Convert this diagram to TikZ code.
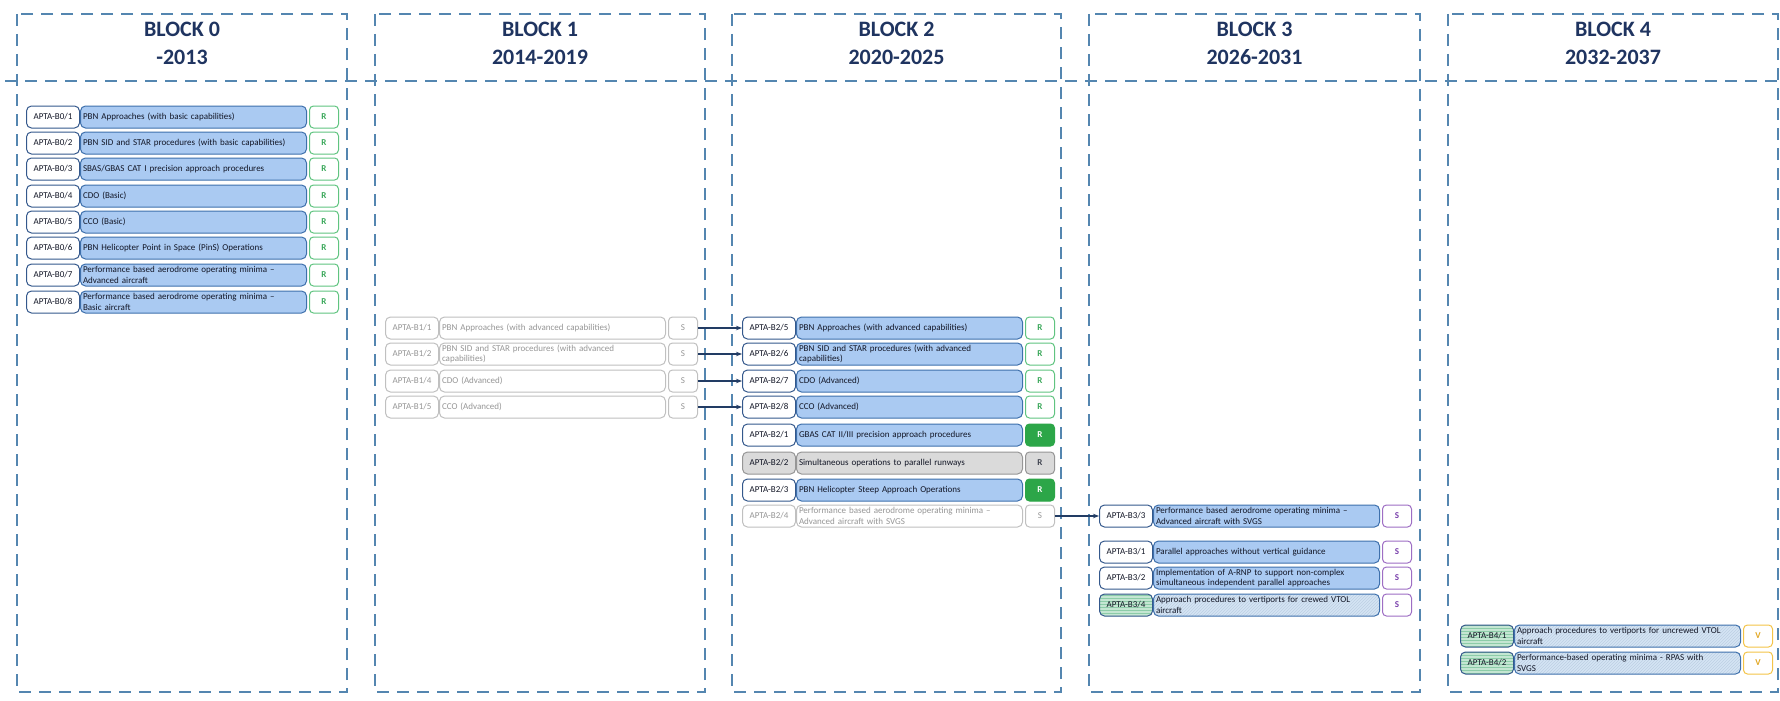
\documentclass[tikz,border=0pt]{standalone}
\usepackage{fontspec}
\setmainfont{Carlito}
\usetikzlibrary{positioning,patterns,arrows.meta}

\definecolor{frameblue}{RGB}{84,134,176}
\definecolor{hdrnavy}{RGB}{31,52,96}
\definecolor{inkdark}{RGB}{18,22,38}
\definecolor{idline}{RGB}{52,88,140}
\definecolor{descfill}{RGB}{170,202,242}
\definecolor{descline}{RGB}{62,112,172}
\definecolor{fadeline}{RGB}{192,192,192}
\definecolor{fadetext}{RGB}{150,150,150}
\definecolor{greyfill}{RGB}{218,218,218}
\definecolor{greyline}{RGB}{150,150,150}
\definecolor{rgreenline}{RGB}{96,196,128}
\definecolor{rgreentext}{RGB}{58,168,90}
\definecolor{rsolid}{RGB}{44,166,72}
\definecolor{purpleline}{RGB}{158,110,196}
\definecolor{purpletext}{RGB}{122,64,172}
\definecolor{yellowline}{RGB}{244,196,72}
\definecolor{yellowtext}{RGB}{226,168,36}
\definecolor{vtolfill}{RGB}{196,230,210}
\definecolor{vtolhatch}{RGB}{140,204,168}
\definecolor{vtoldesc}{RGB}{212,228,244}
\definecolor{vtoldeschatch}{RGB}{190,208,228}
\definecolor{linknavy}{RGB}{34,60,100}

\tikzset{
	colframe/.style={draw=frameblue, line width=1.3pt, dash pattern=on 12pt off 8pt},
	blockhead/.style={text=hdrnavy, align=center, font=\fontsize{22}{28}\selectfont\bfseries},
	idbox/.style={rounded corners=5pt, minimum width=53pt, minimum height=22pt, inner sep=0pt, line width=1pt, font=\fontsize{9}{10.8}\selectfont},
	descbox/.style={rounded corners=5pt, text width=221pt, minimum height=22pt, inner xsep=2.5pt, inner ysep=0pt, align=left, line width=1pt, font=\fontsize{9}{10.8}\selectfont},
	ratebox/.style={rounded corners=4pt, minimum width=29pt, minimum height=22pt, inner sep=0pt, line width=1pt, font=\fontsize{9}{10.8}\selectfont\bfseries},
	idon/.style={draw=idline, fill=white, text=inkdark},
	idoff/.style={draw=fadeline, fill=white, text=fadetext},
	idgrey/.style={draw=greyline, fill=greyfill, text=inkdark},
	idvtol/.style={draw=idline, preaction={fill=vtolfill}, pattern=horizontal lines, pattern color=vtolhatch, text=inkdark},
	descon/.style={draw=descline, fill=descfill, text=inkdark},
	descoff/.style={draw=fadeline, fill=white, text=fadetext},
	descgrey/.style={draw=greyline, fill=greyfill, text=inkdark},
	descvtol/.style={draw=descline, preaction={fill=vtoldesc}, pattern=north east lines, pattern color=vtoldeschatch, text=inkdark},
	rgreen/.style={draw=rgreenline, fill=white, text=rgreentext},
	rfull/.style={draw=rsolid, fill=rsolid, text=white},
	rgrey/.style={draw=greyline, fill=greyfill, text=inkdark!80},
	soff/.style={draw=fadeline, fill=white, text=fadetext, font=\fontsize{9}{10.8}\selectfont},
	spurple/.style={draw=purpleline, fill=white, text=purpletext},
	vyellow/.style={draw=yellowline, fill=white, text=yellowtext},
	carry/.style={draw=linknavy, line width=1.2pt, -{Stealth[length=6pt,width=4.5pt]}}
}

% one row: [id style/desc style/rating style](x,y)(name){id}{text}{rating}
\def\aptarow[#1/#2/#3](#4,#5)(#6)#7#8#9{%
	\node[idbox, #1, anchor=west] (#6) at (#4,#5) {#7};
	\node[descbox, #2, right=0pt of #6] (#6d) {#8};
	\node[ratebox, #3, right=2pt of #6d] (#6r) {#9};}

\begin{document}
\begin{tikzpicture}[x=1pt, y=-1pt]
			%%%%% START %%%%%
			
			\fill[white] (0,0) rectangle (1780,701);
			\useasboundingbox (0,0) rectangle (1780,701);
			
			\draw[colframe] (17,14) rectangle (347,692);
			\draw[colframe] (375,14) rectangle (705,692);
			\draw[colframe] (732,14) rectangle (1061,692);
			\draw[colframe] (1089,14) rectangle (1420,692);
			\draw[colframe] (1448,14) rectangle (1778,692);
			\draw[colframe] (5,81) -- (1780,81);
			
			\node[blockhead] (h0) at (182,43) {BLOCK 0\\-2013};
			\node[blockhead] (h1) at (540,43) {BLOCK 1\\2014-2019};
			\node[blockhead] (h2) at (896.5,43) {BLOCK 2\\2020-2025};
			\node[blockhead] (h3) at (1254.5,43) {BLOCK 3\\2026-2031};
			\node[blockhead] (h4) at (1613,43) {BLOCK 4\\2032-2037};
			
			% block 0
			\aptarow[idon/descon/rgreen](26,117)(b0n1){APTA-B0/1}{PBN Approaches (with basic capabilities)}{R}
			\aptarow[idon/descon/rgreen](26,143)(b0n2){APTA-B0/2}{PBN SID and STAR procedures (with basic capabilities)}{R}
			\aptarow[idon/descon/rgreen](26,169)(b0n3){APTA-B0/3}{SBAS/GBAS CAT I precision approach procedures}{R}
			\aptarow[idon/descon/rgreen](26,196)(b0n4){APTA-B0/4}{CDO (Basic)}{R}
			\aptarow[idon/descon/rgreen](26,222)(b0n5){APTA-B0/5}{CCO (Basic)}{R}
			\aptarow[idon/descon/rgreen](26,248)(b0n6){APTA-B0/6}{PBN Helicopter Point in Space (PinS) Operations}{R}
			\aptarow[idon/descon/rgreen](26,275)(b0n7){APTA-B0/7}{Performance based aerodrome operating minima –\\Advanced aircraft}{R}
			\aptarow[idon/descon/rgreen](26,302)(b0n8){APTA-B0/8}{Performance based aerodrome operating minima –\\Basic aircraft}{R}
			
			% block 1
			\aptarow[idoff/descoff/soff](385,328)(b1n1){APTA-B1/1}{PBN Approaches (with advanced capabilities)}{S}
			\aptarow[idoff/descoff/soff](385,354)(b1n2){APTA-B1/2}{PBN SID and STAR procedures (with advanced\\capabilities)}{S}
			\aptarow[idoff/descoff/soff](385,381)(b1n4){APTA-B1/4}{CDO (Advanced)}{S}
			\aptarow[idoff/descoff/soff](385,407)(b1n5){APTA-B1/5}{CCO (Advanced)}{S}
			
			% block 2
			\aptarow[idon/descon/rgreen](742,328)(b2n5){APTA-B2/5}{PBN Approaches (with advanced capabilities)}{R}
			\aptarow[idon/descon/rgreen](742,354)(b2n6){APTA-B2/6}{PBN SID and STAR procedures (with advanced\\capabilities)}{R}
			\aptarow[idon/descon/rgreen](742,381)(b2n7){APTA-B2/7}{CDO (Advanced)}{R}
			\aptarow[idon/descon/rgreen](742,407)(b2n8){APTA-B2/8}{CCO (Advanced)}{R}
			\aptarow[idon/descon/rfull](742,435)(b2n1){APTA-B2/1}{GBAS CAT II/III precision approach procedures}{R}
			\aptarow[idgrey/descgrey/rgrey](742,463)(b2n2){APTA-B2/2}{Simultaneous operations to parallel runways}{R}
			\aptarow[idon/descon/rfull](742,490)(b2n3){APTA-B2/3}{PBN Helicopter Steep Approach Operations}{R}
			\aptarow[idoff/descoff/soff](742,516)(b2n4){APTA-B2/4}{Performance based aerodrome operating minima –\\Advanced aircraft with SVGS}{S}
			
			% block 3
			\aptarow[idon/descon/spurple](1099,516)(b3n3){APTA-B3/3}{Performance based aerodrome operating minima –\\Advanced aircraft with SVGS}{S}
			\aptarow[idon/descon/spurple](1099,552)(b3n1){APTA-B3/1}{Parallel approaches without vertical guidance}{S}
			\aptarow[idon/descon/spurple](1099,578)(b3n2){APTA-B3/2}{Implementation of A-RNP to support non-complex\\simultaneous independent parallel approaches}{S}
			\aptarow[idvtol/descvtol/spurple](1099,605)(b3n4){APTA-B3/4}{Approach procedures to vertiports for crewed VTOL\\aircraft}{S}
			
			% block 4
			\aptarow[idvtol/descvtol/vyellow](1460,636)(b4n1){APTA-B4/1}{Approach procedures to vertiports for uncrewed VTOL\\aircraft}{V}
			\aptarow[idvtol/descvtol/vyellow](1460,663)(b4n2){APTA-B4/2}{Performance-based operating minima - RPAS with\\SVGS}{V}
			
			\draw[carry] (b1n1r) -- (b2n5);
			\draw[carry] (b1n2r) -- (b2n6);
			\draw[carry] (b1n4r) -- (b2n7);
			\draw[carry] (b1n5r) -- (b2n8);
			\draw[carry] (b2n4r) -- (b3n3);
			
			%%%%% END %%%%%
\end{tikzpicture}
\end{document}
